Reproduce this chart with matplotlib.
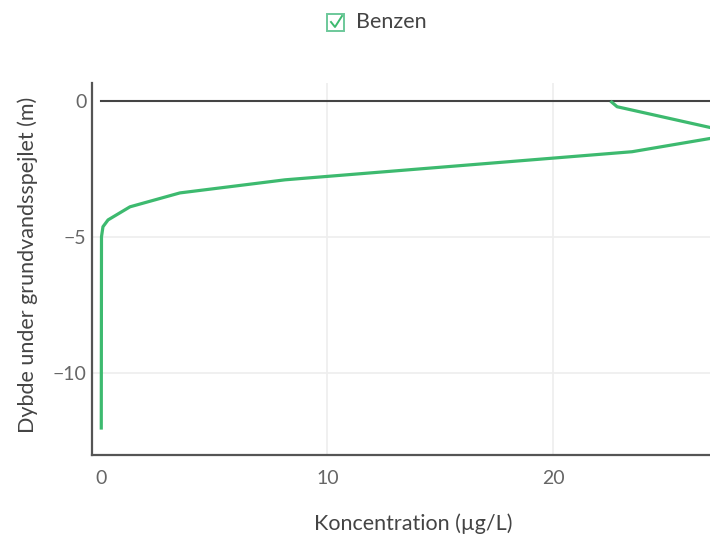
import matplotlib.pyplot as plt
from matplotlib.patches import Rectangle
from matplotlib.lines import Line2D

plt.rcParams['font.family'] = ['Lato', 'DejaVu Sans']

# benzen profile: concentration vs depth below groundwater table
konc = [22.58, 22.82, 28.17, 23.48, 8.13, 3.48, 1.27, 0.30, 0.075, 0.01, 0.0]
dybde = [-0.05, -0.22, -1.21, -1.87, -2.90, -3.38, -3.89, -4.37, -4.62, -4.99, -12.0]
xticks = [0, 10, 20]
yticks = [0, -5, -10]
green = '#3dba6f'
textc = '#444444'

W, H = 710, 538
fig = plt.figure(figsize=(W/100, H/100), dpi=100)
ax = fig.add_axes([92/W, 83/H, 1 - 92/W, (455-83)/H])

ax.set_xlim(-0.41, 26.93)
ax.set_ylim(-12.99, 0.65)

for t in xticks[1:]:
    ax.axvline(t, color='#eeeeee', lw=1.2, zorder=0)
for t in yticks[1:]:
    ax.axhline(t, color='#eeeeee', lw=1.2, zorder=0)
ax.plot([0, 30], [0, 0], color=textc, lw=1.5, zorder=1)

ax.plot(konc, dybde, color=green, lw=2.3, solid_joinstyle='round', zorder=2)

ax.set_xticks(xticks)
ax.set_yticks(yticks)
ax.set_yticklabels(['0', '\u22125', '\u221210'])
ax.tick_params(length=0, labelsize=14, labelcolor='#666666')
ax.tick_params(axis='x', pad=11)
ax.tick_params(axis='y', pad=4)
for s in ['top', 'right']:
    ax.spines[s].set_visible(False)
for s in ['left', 'bottom']:
    ax.spines[s].set_color('#555555')
    ax.spines[s].set_linewidth(1.6)

fig.text(413/W, 1 - 524/H, 'Koncentration (\u00b5g/L)', fontsize=15.5, color=textc,
         ha='center', va='center')
fig.text(28/W, 1 - 265/H, 'Dybde under grundvandsspejlet (m)', fontsize=15.5, color=textc,
         ha='center', va='center', rotation=90)

# legend entry with checkbox
box = Rectangle((327/W, 1 - 31/H), 17/W, 17/H, transform=fig.transFigure,
                fill=False, edgecolor='#6cc89a', lw=1.4)
fig.patches.append(box)
fig.lines.append(Line2D([331/W, 335/W, 342/W], [1 - 22/H, 1 - 27/H, 1 - 16/H],
                        transform=fig.transFigure, color=green, lw=1.4))
fig.text(356/W, 1 - 22/H, 'Benzen', fontsize=15.5, color=textc, va='center', ha='left')

fig.savefig('out.png', dpi=100)
